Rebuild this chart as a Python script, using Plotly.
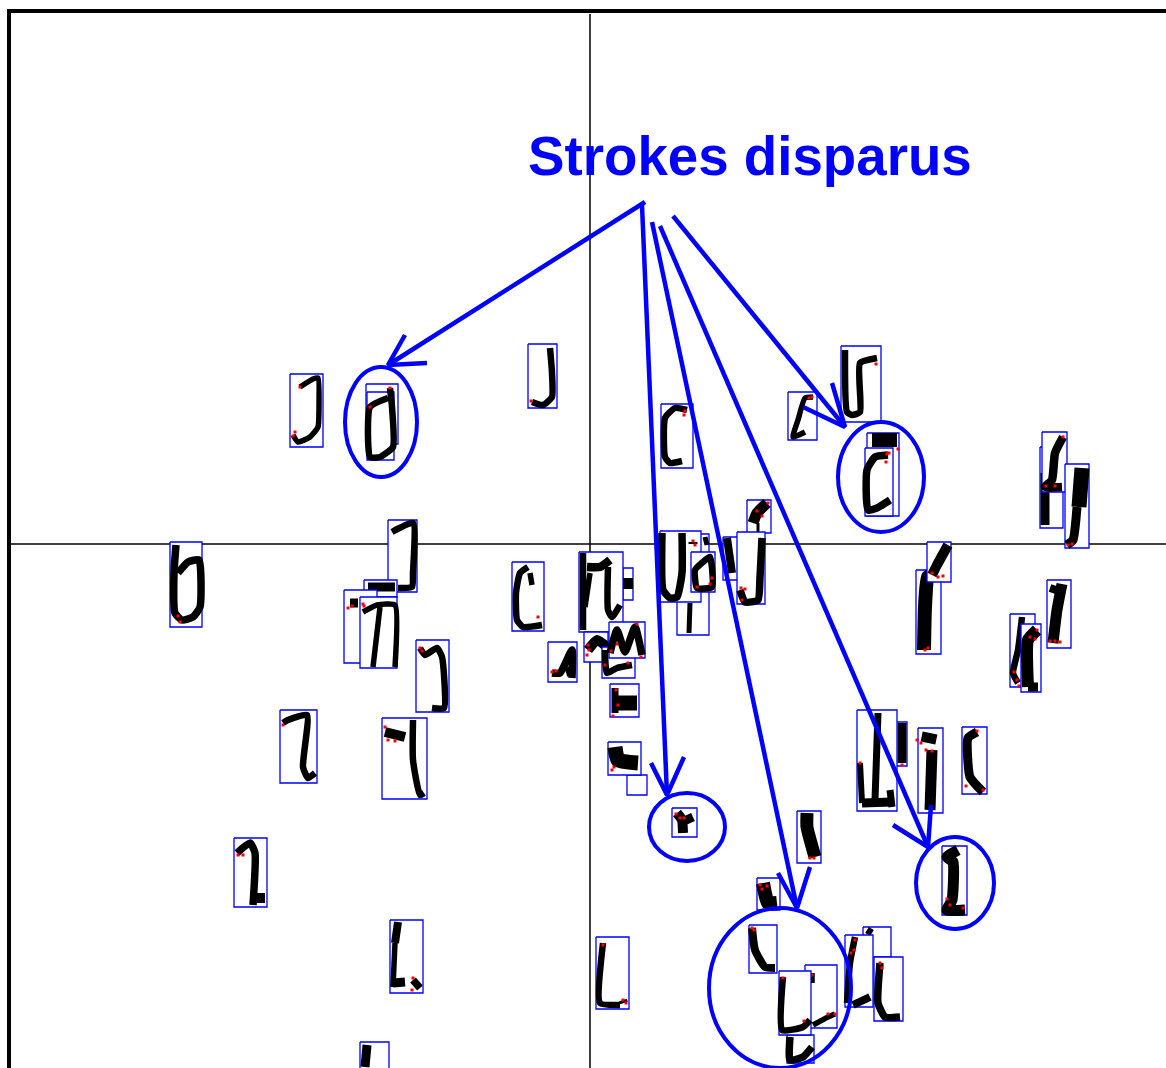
import plotly.graph_objects as go

BLUE = '#0000ff'

# glyph bounding boxes, left, top, right, bottom, in back to front order
boxes = [
    (290,374,323,447), (366,384,398,444), (367,392,394,460), (170,542,202,627),
    (388,520,417,592), (364,580,397,597), (344,590,377,663), (360,597,397,668),
    (416,640,449,712), (528,344,557,408), (661,404,693,468), (788,392,817,440),
    (747,500,771,533), (677,534,709,635), (660,531,701,602), (691,552,715,592),
    (723,537,745,580), (737,532,765,604), (512,562,544,631), (623,568,633,600),
    (579,552,623,632), (584,632,608,662), (602,647,635,678), (609,622,645,658),
    (548,642,577,682), (841,346,881,422), (867,433,899,516), (865,448,893,516),
    (1040,447,1063,528), (1042,432,1067,492), (1065,464,1089,548), (916,570,941,654),
    (927,542,951,582), (1047,580,1071,648), (1010,614,1035,687), (1021,624,1041,692),
    (610,684,639,717), (627,775,647,795), (608,742,641,775), (672,808,697,837),
    (797,811,821,863), (757,878,780,910), (890,722,907,766), (857,710,897,811),
    (918,728,943,813), (962,727,987,794), (942,846,967,915), (596,937,629,1009),
    (749,925,777,973), (787,1035,814,1063), (805,965,837,1028), (779,971,811,1035),
    (863,927,891,957), (845,935,873,1007), (874,957,903,1021), (280,710,317,783),
    (382,718,427,799), (234,838,267,907), (390,920,423,993), (360,1042,389,1090),
]

# pen strokes of each glyph, as flat x,y paths, one row per box
strokes = [
    [(300,387,313,379,318,378,319,407,318,427,310,437,298,442,293,435)],
    [],
    [(390,388,392,407,393,447,380,457,370,457,370,407,388,398)],
    [(176,545,174,573,175,613,182,620,193,617,200,607,199,560,188,562,178,573)],
    [(392,532,413,523,413,573,412,587,398,588)],
    [(368,587,395,587)],
    [(350,603,358,603)],
    [(363,612,377,605,395,605,395,667), (380,607,373,667)],
    [(420,648,425,655,437,648,442,657,444,708,432,708)],
    [(550,348,552,373,552,397,543,405,532,402)],
    [(687,410,675,408,665,418,665,457,670,463,682,461)],
    [(813,397,805,398,798,420,793,437,805,432)],
    [(767,503,757,513,753,523), (758,523,758,532)],
    [(690,603,689,633), (705,537,707,545)],
    [(662,533,663,590,670,598,677,597,682,573,682,533), (693,542,693,544)],
    [(710,557,712,587,697,588,695,570,703,562,710,557)],
    [(727,538,732,573)],
    [(762,538,760,577,758,600,745,602,740,590)],
    [(528,567,520,573,516,593,517,620,523,627,542,625), (530,573,532,585)],
    [(628,578,628,589)],
    [(583,553,583,630), (587,567,600,567,610,560), (608,567,608,610,612,617,620,605), (590,573,585,607)],
    [(588,650,597,640,607,647)],
    [(605,650,607,673,617,668,632,665)],
    [(610,653,617,630,625,652,635,627,642,655)],
    [(552,673,560,673,572,650,572,678), (567,667,570,676)],
    [(845,350,847,412,852,415,860,412,860,363,877,358)],
    [(872,440,897,440)],
    [(888,455,875,457,867,470,868,510,877,508,890,500)],
    [(1045,473,1045,525)],
    [(1063,437,1055,453,1052,480,1045,487,1062,487)],
    [(1082,468,1079,507), (1077,507,1073,540,1067,545)],
    [(937,573,928,577,925,607,924,650)],
    [(948,545,937,565,932,575)],
    [(1062,584,1057,610,1053,643), (1050,588,1062,592)],
    [(1022,617,1018,650,1013,673,1018,683)],
    [(1037,630,1028,640,1028,687), (1028,687,1038,687)],
    [(615,688,615,713), (617,703,637,703)],
    [],
    [(615,747,618,760,638,763)],
    [(677,813,682,820,683,833), (693,817,682,822)],
    [(807,813,807,827,815,857)],
    [(763,883,768,903,777,903)],
    [(902,723,902,763)],
    [(878,713,875,800), (860,763,862,803), (862,803,892,802), (890,790,892,807)],
    [(930,733,928,743), (932,750,930,810)],
    [(977,732,968,738,970,777,983,792)],
    [(958,850,947,857,953,862,952,900,947,910,965,910)],
    [(603,943,600,1003,620,1005), (623,1000,624,1003)],
    [(752,928,755,950,765,967,775,968)],
    [(790,1037,790,1060,803,1057,812,1047)],
    [(812,973,812,983), (813,1025,828,1017,835,1014)],
    [(783,977,782,1030,803,1027,810,1020)],
    [(867,930,872,933)],
    [(855,937,850,963,847,1003), (853,1005,870,997)],
    [(880,963,878,1003,885,1017,900,1017)],
    [(283,723,288,720,307,715,303,767,308,778,315,773)],
    [(385,732,405,737), (413,720,413,760,420,795,424,793)],
    [(237,853,250,843,255,853,253,905), (253,898,265,898)],
    [(398,922,395,943), (395,943,393,987), (393,983,405,982), (413,980,420,988)],
    [(367,1045,365,1067)],
]

stroke_widths = [
    [5.5], [], [6.5], [7.5], [6.5], [9], [9], [5.5,5.5], [6.5], [6.5], [6.5], [5.5], [11,3], [5,5],
    [7.5,9], [6.5], [8], [7.5], [6.5,5.5], [10], [6.5,8.5,6.5,5.5], [10], [6.5], [7.5], [7.5,5.5], [6.5], [14],
    [7.5], [9], [8.5], [15,9], [14], [10], [11,8], [6.5], [12,9], [7,15], [], [15], [10,9],
    [13], [14], [9], [7,6,9,7], [15,11], [9], [11], [6.5,8], [8], [7.5], [5.5,5.5], [6.5],
    [7], [6.5,8], [7.5], [6.5], [10,6.5], [7.5,10], [8,5.5,9,7.5], [9],
]

# little red pen marks, flat x,y, one row per box
red_marks = [
    (300,387,295,432,293,436), (), (390,388,370,407), (178,616,180,622),
    (), (), (348,608,352,606), (363,604,364,606),
    (420,648,422,651), (531,401), (685,411,684,415), (812,397,809,398),
    (768,503,757,511,762,516), (), (693,541,695,545), (697,587,712,578,710,584),
    (), (741,588,742,600,745,589), (538,617), (),
    (), (588,645,587,655,589,650), (605,665,628,663), (611,651,641,657,637,624,617,644),
    (552,672,556,671), (876,364), (898,449), (887,454,886,462,889,453),
    (), (1063,437,1046,486,1055,486), (1068,545,1072,544), (925,650,928,648),
    (932,573,938,577,943,576), (1050,641,1060,642,1055,641), (1014,672,1017,680,1019,686), (1037,630,1030,637,1035,639),
    (616,690,618,705,613,716), (), (612,770,614,767), (676,814,680,818,684,818),
    (810,858,814,858), (760,885,762,889,767,886), (902,765), (860,763),
    (921,743,926,750,932,751,917,740), (977,731,966,786,983,790), (947,899,963,908,950,905), (603,945,623,1000,626,1003),
    (752,928,754,930), (), (812,975,828,1014,835,1014), (783,978,804,1021),
    (), (854,950,851,953,855,940), (880,963,882,968), (283,725),
    (385,727,388,740,395,741), (238,855,243,855), (413,978,412,990), (),
]

# the five arrows, shaft then the two barbs, flat x,y
arrow_shafts = [
    (645,202,388,365), (642,205,667,795), (652,222,797,908),
    (660,226,928,847), (673,216,845,427),
]
arrow_barbs = [
    (405,335,388,365,427,363), (651,763,667,795,684,757), (778,873,797,908,810,867),
    (893,825,928,847,931,805), (803,407,845,427,832,383),
]

# rings around the glyphs, centre x, centre y, radius x, radius y
ring_cx = [381, 881, 687, 955, 780]
ring_cy = [422, 477, 827, 883, 988]
ring_rx = [36, 43, 38, 39, 71]
ring_ry = [55, 55, 34, 46, 80]

label = 'Strokes disparus'


def path(flat):
    return list(flat[0::2]), list(flat[1::2])


fig = go.Figure()

# factor axes, under the glyphs
fig.add_trace(go.Scatter(x=[590, 590], y=[14, 1068], mode='lines', line=dict(color='black', width=1.5)))
fig.add_trace(go.Scatter(x=[10, 1166], y=[544, 544], mode='lines', line=dict(color='black', width=1.5)))
# frame, the right and bottom sides are cropped away
fig.add_trace(go.Scatter(x=[9, 9, 1166], y=[1068, 11, 11], mode='lines', line=dict(color='black', width=4)))

for box, paths, widths, red in zip(boxes, strokes, stroke_widths, red_marks):
    l, t, r, b = box
    fig.add_trace(go.Scatter(x=[l, r, r, l, l], y=[t, t, b, b, t], mode='lines', fill='toself',
                             fillcolor='white', line=dict(color=BLUE, width=1.3)))
    for flat, w in zip(paths, widths):
        xs, ys = path(flat)
        fig.add_trace(go.Scatter(x=xs, y=ys, mode='lines',
                                 line=dict(color='black', width=w, shape='spline', smoothing=0.5)))
    if red:
        xs, ys = path(red)
        fig.add_trace(go.Scatter(x=xs, y=ys, mode='markers',
                                 marker=dict(color='red', size=3, symbol='square')))

for shaft, barb in zip(arrow_shafts, arrow_barbs):
    for flat in (shaft, barb):
        xs, ys = path(flat)
        fig.add_trace(go.Scatter(x=xs, y=ys, mode='lines', line=dict(color=BLUE, width=4.5)))

for cx, cy, rx, ry in zip(ring_cx, ring_cy, ring_rx, ring_ry):
    fig.add_shape(type='circle', xref='x', yref='y', x0=cx - rx, x1=cx + rx, y0=cy - ry, y1=cy + ry,
                  line=dict(color=BLUE, width=4))

fig.add_annotation(x=526, y=156, text='<b>' + label + '</b>', showarrow=False, xanchor='left', yanchor='middle',
                   xref='x', yref='y', font=dict(family='Liberation Sans', size=54.7, color=BLUE))

fig.update_layout(
    width=1166, height=1068,
    margin=dict(t=0, l=0, r=0, b=0),
    showlegend=False,
    hovermode=False,
    paper_bgcolor='white',
    plot_bgcolor='white',
    xaxis=dict(range=[0, 1166], visible=False, fixedrange=True),
    yaxis=dict(range=[1068, 0], visible=False, fixedrange=True),
)

fig.write_html('out.html', config=dict(displayModeBar=False),
               post_script="document.body.style.margin='0';document.body.style.overflow='hidden';")
